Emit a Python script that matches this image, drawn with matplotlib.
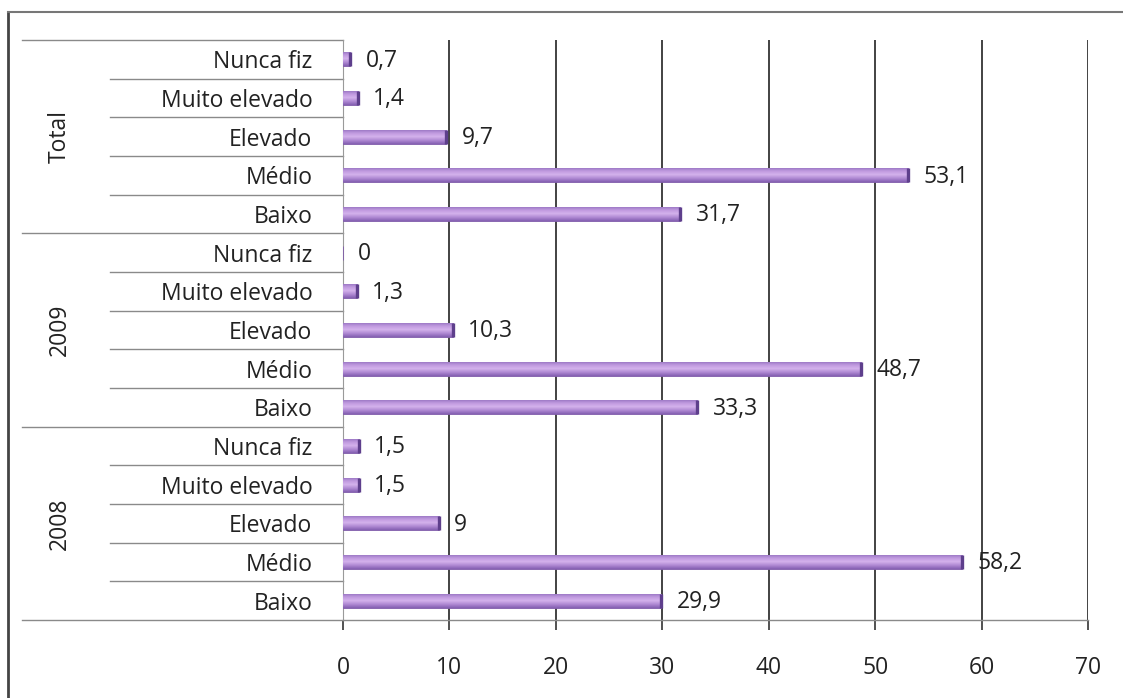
import numpy as np
import matplotlib.pyplot as plt
from matplotlib.lines import Line2D
from matplotlib.colors import LinearSegmentedColormap

plt.rcParams['font.family'] = ['Open Sans', 'DejaVu Sans']

groups = ["2008", "2009", "Total"]
levels = ["Baixo", "Médio", "Elevado", "Muito elevado", "Nunca fiz"]
v2008 = [29.9, 58.2, 9, 1.5, 1.5]
v2009 = [33.3, 48.7, 10.3, 1.3, 0]
vtotal = [31.7, 53.1, 9.7, 1.4, 0.7]

values = v2008 + v2009 + vtotal
labels = levels * 3
ypos = np.arange(len(values))

W, H = 1123, 698
fig = plt.figure(figsize=(W / 100, H / 100), dpi=100)
ax = fig.add_axes([343 / W, 1 - 620 / H, 745 / W, 580 / H])

bars = ax.barh(ypos, values, height=0.37, color="#A984CE",
               edgecolor="#7E5AA8", linewidth=0.6, zorder=3)

# vertical gradient inside each bar
cmap = LinearSegmentedColormap.from_list(
    "lav", ["#8560B2", "#B08AD4", "#D4B2EC", "#BE98DE", "#9370BE"])
grad = np.linspace(0, 1, 64).reshape(-1, 1)
for b in bars:
    if b.get_width() <= 0:
        continue
    x0, y0 = b.get_x(), b.get_y()
    im = ax.imshow(grad, extent=[x0, x0 + b.get_width(), y0, y0 + b.get_height()],
                   aspect="auto", cmap=cmap, origin="lower", zorder=3.5)
    im.set_clip_path(b)
    ax.plot([x0 + b.get_width()] * 2, [y0, y0 + b.get_height()],
            color="#5E3F8C", lw=2.4, zorder=4, solid_capstyle="butt")

fs = 16.5
for y, v in zip(ypos, values):
    txt = ("%g" % v).replace(".", ",")
    ax.annotate(txt, (v, y), xytext=(11, -1), textcoords="offset points",
                ha="left", va="center", fontsize=fs, color="#222222")

ax.set_xlim(0, 70)
ax.set_ylim(-0.5, len(values) - 0.5)
ax.set_xticks(np.arange(0, 71, 10))
ax.set_yticks(ypos)
ax.set_yticklabels(labels, fontsize=fs, color="#222222")
ax.tick_params(axis="y", length=0, pad=22)
ax.tick_params(axis="x", length=7, width=1.2, color="#333333", pad=19,
               labelsize=fs, labelcolor="#222222")

ax.grid(axis="x", color="#222222", linewidth=1.2, zorder=0)
for s in ["top", "right"]:
    ax.spines[s].set_visible(False)
ax.spines["left"].set_color("#9a9a9a")
ax.spines["bottom"].set_color("#8a8a8a")
ax.spines["bottom"].set_linewidth(1.0)

# separators in the category area
tr = ax.get_yaxis_transform()
for k in range(len(values) + 1):
    yb = k - 0.5
    if k % 5 == 0:
        ax.plot([-0.431, 0], [yb, yb], transform=tr, color="#8a8a8a",
                lw=1.0, clip_on=False)
    else:
        ax.plot([-0.313, 0], [yb, yb], transform=tr, color="#8a8a8a",
                lw=1.0, clip_on=False)

for i, g in enumerate(groups):
    ax.text(-0.38, i * 5 + 2, g, transform=tr, rotation=90,
            ha="center", va="center", fontsize=fs, color="#222222")

# outer frame (left and top edges visible)
fig.add_artist(Line2D([8 / W, 8 / W], [0, 1 - 12 / H], color="#444444", lw=2))
fig.add_artist(Line2D([8 / W, 1], [1 - 12 / H, 1 - 12 / H], color="#777777", lw=1.5))

fig.savefig("out.png", dpi=100)
